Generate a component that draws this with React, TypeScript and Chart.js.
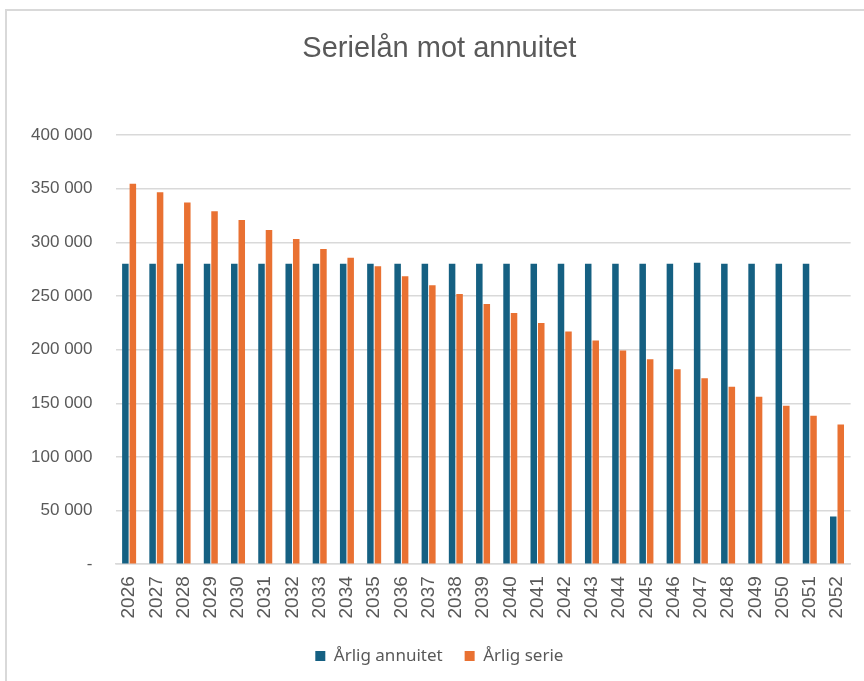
import React, { useEffect, useRef } from "react";
import { Chart, registerables } from "chart.js";

Chart.register(...registerables);

const years: string[] = [
  "2026", "2027", "2028", "2029", "2030", "2031", "2032", "2033", "2034",
  "2035", "2036", "2037", "2038", "2039", "2040", "2041", "2042", "2043",
  "2044", "2045", "2046", "2047", "2048", "2049", "2050", "2051", "2052",
];

const annuitet: number[] = [
  280000, 280000, 280000, 280000, 280000, 280000, 280000, 280000, 280000,
  280000, 280000, 280000, 280000, 280000, 280000, 280000, 280000, 280000,
  280000, 280000, 280000, 281000, 280000, 280000, 280000, 280000, 44500,
];

const serie: number[] = [
  354600, 346600, 337200, 328900, 320800, 311500, 303000, 293800, 285700,
  277600, 268300, 260000, 251900, 242600, 234200, 224900, 216800, 208500,
  199100, 191100, 181800, 173400, 165300, 156000, 147600, 138300, 130200,
];

const yTicks: number[] = [0, 50000, 100000, 150000, 200000, 250000, 300000, 350000, 400000];

const fmt = (v: number) =>
  v === 0 ? "-" : String(v).replace(/\B(?=(\d{3})+(?!\d))/g, " ");

export default function App() {
  const ref = useRef<HTMLCanvasElement | null>(null);

  useEffect(() => {
    if (!ref.current) return;
    const chart = new Chart(ref.current, {
      type: "bar",
      data: {
        labels: years,
        datasets: [
          {
            label: "Årlig annuitet",
            data: annuitet,
            backgroundColor: "#156082",
            categoryPercentage: 0.55,
            barPercentage: 0.87,
          },
          {
            label: "Årlig serie",
            data: serie,
            backgroundColor: "#E97132",
            categoryPercentage: 0.55,
            barPercentage: 0.87,
          },
        ],
      },
      options: {
        animation: false,
        responsive: false,
        maintainAspectRatio: false,
        layout: { padding: { left: 17, right: 10.3, top: 0, bottom: 6.4 } },
        plugins: {
          title: {
            display: true,
            text: "Serielån mot annuitet",
            color: "#595959",
            font: { family: "'Liberation Sans', Arial, sans-serif", size: 29, weight: "normal" },
            padding: { top: 31.6, bottom: 68.6 },
          },
          legend: {
            position: "bottom",
            labels: {
              color: "#595959",
              font: { family: "'Noto Sans', sans-serif", size: 17 },
              boxWidth: 10,
              boxHeight: 10,
              padding: 22,
            },
          },
          tooltip: { enabled: false },
        },
        scales: {
          x: {
            grid: { display: false, drawTicks: false },
            border: { display: true, color: "#d9d9d9", width: 1.5 },
            ticks: {
              color: "#595959",
              font: { family: "'Liberation Sans', Arial, sans-serif", size: 19 },
              maxRotation: 90,
              minRotation: 90,
              padding: 12,
              autoSkip: false,
            },
            afterFit: (s: any) => {
              s.height = 61.4;
            },
          },
          y: {
            min: 0,
            max: 400000,
            afterBuildTicks: (s: any) => {
              s.ticks = yTicks.map((v) => ({ value: v }));
            },
            grid: { color: "#d9d9d9", lineWidth: 1.5, drawTicks: false },
            border: { display: false },
            ticks: {
              color: "#595959",
              font: { family: "'Liberation Sans', Arial, sans-serif", size: 17 },
              padding: 23,
              callback: (v: any) => fmt(Number(v)),
            },
            afterFit: (s: any) => {
              s.width = 98.5;
            },
          },
        },
      },
    });
    return () => chart.destroy();
  }, []);

  return (
    <div style={{ position: "fixed", left: 0, top: 0, width: 864, height: 681, background: "#fff", overflow: "hidden" }}>
      <div
        style={{
          position: "absolute",
          left: 5,
          top: 9,
          width: 900,
          height: 700,
          borderTop: "2px solid #d9d9d9",
          borderLeft: "2px solid #d9d9d9",
        }}
      />
      <canvas ref={ref} width={872} height={681} style={{ position: "absolute", left: 0, top: 0 }} />
    </div>
  );
}
